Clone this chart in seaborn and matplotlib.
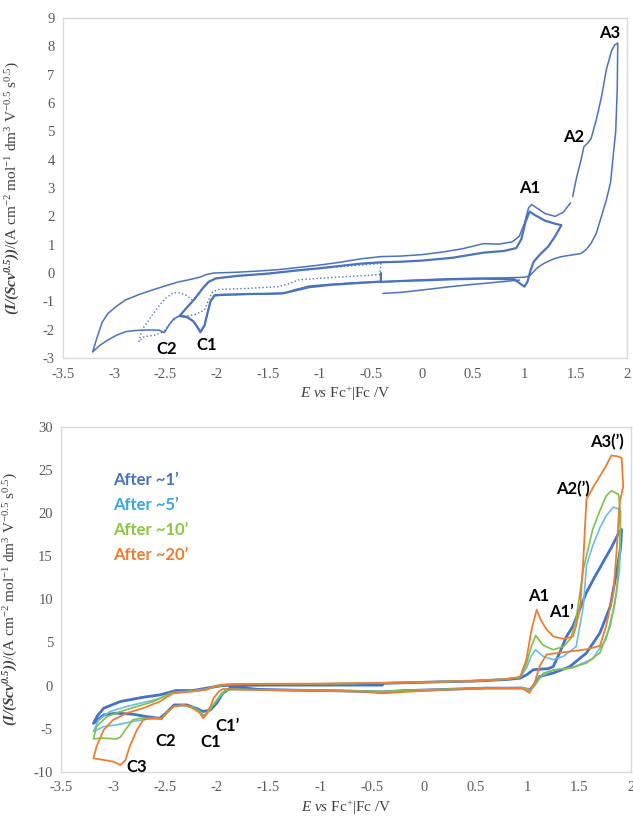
import matplotlib
matplotlib.use("Agg")
import matplotlib.pyplot as plt
import seaborn as sns
import pandas as pd

# ---- top panel: (E / V, I / (Scv^0.5)) pairs ----
top_wide_up = [(-3.21, -2.78), (-3.17, -2.3), (-3.12, -1.75), (-3.06, -1.42), (-2.97, -1.15),
               (-2.89, -0.95), (-2.76, -0.76), (-2.63, -0.6), (-2.5, -0.45), (-2.37, -0.31),
               (-2.25, -0.22), (-2.17, -0.15), (-2.1, -0.05), (-2.03, 0.0), (-1.8, 0.03),
               (-1.6, 0.07), (-1.4, 0.12), (-1.2, 0.2), (-1.0, 0.28), (-0.8, 0.38), (-0.6, 0.5),
               (-0.4, 0.58), (-0.2, 0.6), (0.0, 0.65), (0.2, 0.74), (0.4, 0.86), (0.6, 1.04),
               (0.75, 1.02), (0.88, 1.1), (0.95, 1.3), (1.0, 1.75), (1.04, 2.3), (1.07, 2.42),
               (1.12, 2.3), (1.2, 2.1), (1.3, 2.0), (1.38, 2.15), (1.45, 2.48)]
top_wide_down = [(1.47, 2.7), (1.51, 3.4), (1.55, 3.96), (1.58, 4.46), (1.62, 4.6), (1.65, 4.75),
                 (1.7, 5.4), (1.75, 6.2), (1.8, 7.2), (1.85, 7.85), (1.88, 8.05), (1.91, 8.12),
                 (1.905, 6.5), (1.89, 5.0), (1.87, 4.3), (1.84, 3.2), (1.8, 2.6), (1.75, 1.99),
                 (1.7, 1.4), (1.65, 1.05), (1.6, 0.82), (1.55, 0.69), (1.45, 0.63), (1.36, 0.58),
                 (1.27, 0.48), (1.19, 0.34), (1.13, 0.2), (1.09, 0.05), (1.05, -0.1), (1.0, -0.15),
                 (0.8, -0.17), (0.6, -0.18), (0.3, -0.2), (0.0, -0.24), (-0.3, -0.3), (-0.6, -0.33),
                 (-0.9, -0.4), (-1.1, -0.46), (-1.25, -0.6), (-1.35, -0.72), (-1.5, -0.74),
                 (-1.7, -0.75), (-1.9, -0.77), (-2.02, -0.8), (-2.06, -1.0), (-2.09, -1.4),
                 (-2.12, -1.85), (-2.16, -2.1), (-2.19, -1.9), (-2.23, -1.7), (-2.29, -1.57),
                 (-2.37, -1.52), (-2.42, -1.62), (-2.47, -1.85), (-2.51, -2.1), (-2.56, -2.02),
                 (-2.62, -2.01), (-2.7, -2.01), (-2.8, -2.03), (-2.89, -2.07), (-2.98, -2.2),
                 (-3.06, -2.36), (-3.14, -2.55), (-3.21, -2.78)]
top_inner = [(-0.4, 0.0), (-0.4, -0.3), (-0.6, -0.35), (-0.9, -0.42), (-1.1, -0.5), (-1.25, -0.63),
             (-1.35, -0.71), (-1.5, -0.73), (-1.7, -0.74), (-1.9, -0.76), (-2.02, -0.78),
             (-2.06, -0.98), (-2.09, -1.4), (-2.12, -1.85), (-2.16, -2.08), (-2.19, -1.9),
             (-2.23, -1.7), (-2.29, -1.55), (-2.36, -1.5), (-2.3, -1.25), (-2.21, -0.89),
             (-2.14, -0.55), (-2.08, -0.31), (-2.01, -0.19), (-1.8, -0.1), (-1.5, -0.02),
             (-1.2, 0.1), (-1.0, 0.17), (-0.8, 0.25), (-0.6, 0.33), (-0.4, 0.38), (-0.2, 0.4),
             (0.0, 0.44), (0.3, 0.54), (0.6, 0.72), (0.8, 0.78), (0.92, 0.88), (0.97, 1.2),
             (1.01, 1.8), (1.05, 2.17), (1.1, 2.05), (1.2, 1.85), (1.3, 1.74), (1.36, 1.69),
             (1.3, 1.3), (1.23, 0.93), (1.15, 0.65), (1.09, 0.4), (1.06, 0.1), (1.03, -0.3),
             (1.0, -0.48), (0.95, -0.35), (0.9, -0.22), (0.6, -0.2), (0.3, -0.22), (0.0, -0.26),
             (-0.2, -0.28), (-0.4, -0.31)]
top_start = [(-0.38, -0.72), (-0.2, -0.68), (0.0, -0.6), (0.28, -0.48), (0.5, -0.4),
             (0.77, -0.31), (0.95, -0.25)]
top_dotted = [(-0.4, 0.35), (-0.41, -0.05), (-0.6, -0.1), (-0.9, -0.16), (-1.2, -0.24),
              (-1.3, -0.38), (-1.4, -0.48), (-1.7, -0.54), (-1.98, -0.58), (-2.04, -0.66),
              (-2.08, -0.95), (-2.12, -1.3), (-2.2, -1.45), (-2.3, -1.52), (-2.38, -1.55),
              (-2.45, -1.75), (-2.5, -2.0), (-2.54, -2.1), (-2.6, -2.19), (-2.71, -2.25),
              (-2.76, -2.42), (-2.74, -2.15), (-2.71, -1.9), (-2.67, -1.7), (-2.63, -1.48),
              (-2.57, -1.19), (-2.5, -0.89), (-2.42, -0.69), (-2.36, -0.7), (-2.3, -0.78),
              (-2.24, -0.95), (-2.18, -0.75), (-2.12, -0.45), (-2.06, -0.28), (-2.0, -0.18),
              (-1.7, -0.08), (-1.4, 0.02), (-1.1, 0.12), (-0.8, 0.22), (-0.6, 0.28),
              (-0.45, 0.32), (-0.4, 0.35)]

# ---- bottom panel: one loop per waiting time ----
after_1 = [(-0.4, 0.25), (0.0, 0.38), (0.5, 0.52), (0.8, 0.7), (0.93, 0.85), (1.0, 1.3),
           (1.056, 1.83), (1.12, 1.9), (1.2, 1.95), (1.25, 2.2), (1.31, 3.77), (1.378, 5.7),
           (1.44, 6.9), (1.5, 8.7), (1.57, 10.8), (1.65, 12.6), (1.73, 14.3), (1.81, 16.0),
           (1.89, 17.9), (1.91, 18.1), (1.9, 16.0), (1.86, 13.1), (1.8, 9.2), (1.7, 6.1),
           (1.57, 3.77), (1.41, 2.2), (1.25, 1.45), (1.12, 1.06), (1.056, -0.1), (1.024, -0.5),
           (0.95, -0.3), (0.6, -0.3), (0.2, -0.45), (-0.2, -0.6), (-0.4, -0.75), (-0.8, -0.62),
           (-1.2, -0.55), (-1.6, -0.45), (-1.78, -0.23), (-1.87, -0.31), (-1.94, -0.89),
           (-2.0, -2.05), (-2.06, -2.83), (-2.13, -3.02), (-2.2, -2.63), (-2.29, -2.25),
           (-2.41, -2.25), (-2.49, -3.21), (-2.55, -3.8), (-2.68, -3.6), (-2.81, -3.33),
           (-2.97, -3.21), (-3.09, -3.41), (-3.19, -4.4), (-3.15, -3.5), (-3.09, -2.63),
           (-2.93, -1.86), (-2.71, -1.36), (-2.55, -1.09), (-2.39, -0.58), (-2.23, -0.58),
           (-2.1, -0.31), (-1.94, 0.0), (-1.5, 0.05), (-1.0, 0.05), (-0.6, 0.05), (-0.4, 0.05)]
after_5 = [(-0.4, 0.3), (0.0, 0.4), (0.5, 0.55), (0.8, 0.75), (0.93, 0.95), (0.99, 2.0),
           (1.04, 3.5), (1.08, 4.15), (1.15, 3.4), (1.25, 3.0), (1.35, 3.4), (1.47, 4.5),
           (1.54, 9.2), (1.57, 13.9), (1.63, 16.2), (1.7, 18.3), (1.76, 19.7), (1.83, 20.7),
           (1.88, 20.5), (1.9, 18.1), (1.89, 13.5), (1.84, 9.2), (1.76, 5.4), (1.63, 3.1),
           (1.44, 2.1), (1.25, 1.8), (1.12, 1.0), (1.07, 0.0), (1.03, -0.5), (0.95, -0.25),
           (0.6, -0.3), (0.2, -0.45), (-0.2, -0.6), (-0.4, -0.7), (-0.8, -0.6), (-1.2, -0.55),
           (-1.6, -0.5), (-1.85, -0.45), (-1.92, -0.6), (-1.97, -1.3), (-2.03, -2.2),
           (-2.08, -3.0), (-2.12, -3.5), (-2.16, -3.0), (-2.23, -2.5), (-2.32, -2.3),
           (-2.41, -2.4), (-2.49, -3.3), (-2.53, -3.85), (-2.6, -3.85), (-2.68, -3.91),
           (-2.81, -4.18), (-2.97, -4.57), (-3.09, -4.76), (-3.19, -5.35), (-3.14, -3.99),
           (-3.03, -3.02), (-2.87, -2.44), (-2.71, -1.98), (-2.55, -1.5), (-2.42, -0.8),
           (-2.23, -0.62), (-2.1, -0.4), (-2.0, -0.05), (-1.9, 0.12), (-1.5, 0.18), (-1.0, 0.2),
           (-0.6, 0.26), (-0.4, 0.3)]
after_10 = [(-0.4, 0.3), (0.0, 0.4), (0.5, 0.55), (0.8, 0.75), (0.93, 0.95), (0.99, 2.5),
            (1.04, 4.6), (1.08, 5.8), (1.15, 4.7), (1.25, 4.15), (1.35, 4.54), (1.42, 5.5),
            (1.47, 7.64), (1.54, 13.5), (1.63, 18.1), (1.7, 20.3), (1.76, 22.0), (1.81, 22.6),
            (1.88, 22.2), (1.9, 20.0), (1.89, 15.4), (1.86, 10.8), (1.8, 6.9), (1.7, 3.8),
            (1.57, 2.6), (1.41, 2.0), (1.25, 1.8), (1.15, 1.4), (1.08, 0.2), (1.03, -0.6),
            (0.95, -0.25), (0.6, -0.3), (0.2, -0.45), (-0.2, -0.6), (-0.4, -0.7), (-0.8, -0.6),
            (-1.2, -0.55), (-1.6, -0.5), (-1.85, -0.45), (-1.92, -0.6), (-1.97, -1.2),
            (-2.03, -2.2), (-2.08, -3.1), (-2.12, -3.7), (-2.16, -3.1), (-2.23, -2.55),
            (-2.32, -2.3), (-2.41, -2.4), (-2.49, -3.3), (-2.53, -3.85), (-2.6, -3.8),
            (-2.74, -3.8), (-2.81, -3.99), (-2.87, -4.96), (-2.93, -6.0), (-2.97, -6.2),
            (-3.1, -6.1), (-3.19, -6.2), (-3.16, -4.76), (-3.06, -3.6), (-2.93, -3.02),
            (-2.77, -2.44), (-2.61, -1.86), (-2.45, -0.9), (-2.23, -0.65), (-2.1, -0.45),
            (-2.0, -0.08), (-1.9, 0.12), (-1.5, 0.18), (-1.0, 0.2), (-0.6, 0.26), (-0.4, 0.3)]
after_20 = [(-0.4, 0.3), (0.0, 0.4), (0.5, 0.55), (0.8, 0.75), (0.93, 1.0), (0.99, 3.0),
            (1.04, 6.5), (1.09, 8.8), (1.13, 7.6), (1.185, 6.5), (1.25, 5.7), (1.35, 5.4),
            (1.44, 5.7), (1.47, 6.9), (1.51, 9.2), (1.54, 14.6), (1.57, 21.6), (1.64, 23.1),
            (1.7, 24.3), (1.76, 25.5), (1.81, 26.7), (1.87, 26.6), (1.91, 26.4), (1.925, 23.1),
            (1.89, 21.2), (1.86, 15.4), (1.83, 10.8), (1.76, 6.9), (1.7, 4.6), (1.57, 4.2),
            (1.31, 3.8), (1.185, 3.6), (1.12, 2.3), (1.07, 0.36), (1.02, -0.87), (0.95, -0.3),
            (0.6, -0.3), (0.2, -0.5), (-0.2, -0.75), (-0.4, -0.9), (-0.6, -0.7), (-1.0, -0.6),
            (-1.4, -0.55), (-1.84, -0.45), (-1.94, -0.4), (-1.98, -0.7), (-2.03, -1.47),
            (-2.06, -2.44), (-2.1, -3.21), (-2.13, -3.8), (-2.16, -3.21), (-2.23, -2.63),
            (-2.32, -2.25), (-2.42, -2.44), (-2.49, -3.21), (-2.53, -3.88), (-2.55, -3.8),
            (-2.65, -3.8), (-2.71, -3.99), (-2.77, -5.15), (-2.84, -7.09), (-2.88, -8.64),
            (-2.93, -9.22), (-3.0, -8.83), (-3.09, -8.64), (-3.19, -8.45), (-3.16, -7.09),
            (-3.09, -5.15), (-3.0, -3.99), (-2.87, -3.21), (-2.71, -2.63), (-2.55, -1.86),
            (-2.42, -0.89), (-2.23, -0.69), (-2.1, -0.5), (-2.03, -0.11), (-1.97, 0.08),
            (-1.84, 0.16), (-1.5, 0.2), (-1.0, 0.22), (-0.6, 0.28), (-0.4, 0.3)]

legend_labels = ["After ~1\u2019", "After ~5\u2019", "After ~10\u2019", "After ~20\u2019"]
legend_colors = ["#4472C4", "#3AA6E0", "#8CC63F", "#ED7D31"]
line_colors = ["#4472C4", "#6CBBE8", "#7DC04A", "#ED7D31"]

x_ticks = [-3.5, -3, -2.5, -2, -1.5, -1, -0.5, 0, 0.5, 1, 1.5, 2]

sns.set_style("white")
plt.rcParams["font.family"] = ["Liberation Serif", "DejaVu Serif"]
plt.rcParams["axes.unicode_minus"] = False
plt.rcParams["mathtext.fontset"] = "custom"
plt.rcParams["mathtext.rm"] = "Liberation Serif"
plt.rcParams["mathtext.it"] = "Liberation Serif:italic"
plt.rcParams["mathtext.bf"] = "Liberation Serif:bold:italic"

TICK_C = "#595959"
LAB_C = "#404040"
GRID_C = "#D9D9D9"
ylab = (r"$\mathbf{(I/(Scv^{0.5}))}$/(A cm$^{-2}$ mol$^{-1}$ dm$^{3}$ "
        r"V$^{-0.5}$ s$^{0.5}$)")
xlab = r"$\mathit{E\ vs}$ Fc$^{+}$|Fc /V"


def draw(ax, pts, color, lw, ls="-"):
    df = pd.DataFrame(pts, columns=["E", "I"])
    sns.lineplot(data=df, x="E", y="I", sort=False, estimator=None, ax=ax,
                 color=color, linewidth=lw, linestyle=ls)


def style_axes(ax, yticks):
    ax.set_xlim(-3.5, 2)
    ax.set_xticks(x_ticks)
    ax.set_xticklabels([f"{t:g}" for t in x_ticks])
    ax.set_ylim(yticks[0], yticks[-1])
    ax.set_yticks(yticks)
    ax.set_yticklabels([str(t) for t in yticks])
    for s in ax.spines.values():
        s.set_color(GRID_C)
        s.set_linewidth(1)
    ax.tick_params(axis="x", length=4, color=GRID_C, labelsize=10.5, labelcolor=TICK_C, pad=3)
    ax.tick_params(axis="y", length=0, labelsize=10.5, labelcolor=TICK_C, pad=6)
    ax.set_xlabel(xlab, fontsize=11, color=LAB_C, labelpad=3)
    ax.set_ylabel(ylab, fontsize=11, color=LAB_C)
    ax.yaxis.set_label_coords(-0.072, 0.5)


fig = plt.figure(figsize=(6.33, 8.18), dpi=100)
ax1 = fig.add_axes([0.0995, 0.5623, 0.891, 0.4156])
ax2 = fig.add_axes([0.0968, 0.0566, 0.900, 0.4214])

blue = "#4A72C0"
draw(ax1, top_wide_up, blue, 1.1)
draw(ax1, top_wide_down, blue, 1.1)
draw(ax1, top_inner, blue, 1.6)
draw(ax1, top_start, blue, 1.1)
draw(ax1, top_dotted, blue, 1.0, ":")
style_axes(ax1, list(range(-3, 10)))

lab_font = dict(family=["Lato", "DejaVu Sans"], fontweight="bold", fontsize=12, color="black")
for txt, e, i in [("A3", 1.83, 8.47), ("A2", 1.48, 4.8), ("A1", 1.05, 3.0),
                  ("C2", -2.49, -2.68), ("C1", -2.1, -2.54)]:
    ax1.text(e, i, txt, ha="center", va="center", **lab_font)

for pts, c, lw in zip([after_1, after_5, after_10, after_20], line_colors, [2.0, 1.2, 1.2, 1.3]):
    draw(ax2, pts, c, lw)
style_axes(ax2, list(range(-10, 31, 5)))

for txt, e, i in [("A3(\u2019)", 1.77, 28.2), ("A2(\u2019)", 1.44, 22.75), ("A1", 1.11, 10.4),
                  ("A1\u2019", 1.33, 8.5), ("C1\u2019", -1.9, -4.7), ("C1", -2.06, -6.5),
                  ("C2", -2.49, -6.4), ("C3", -2.77, -9.4)]:
    ax2.text(e, i, txt, ha="center", va="center", **lab_font)

for k, (txt, c) in enumerate(zip(legend_labels, legend_colors)):
    ax2.text(-3.0, 23.8 - 2.9 * k, txt, ha="left", va="center", color=c,
             family=["Lato", "DejaVu Sans"], fontweight="bold", fontsize=12)

fig.savefig("out.png", dpi=100)
